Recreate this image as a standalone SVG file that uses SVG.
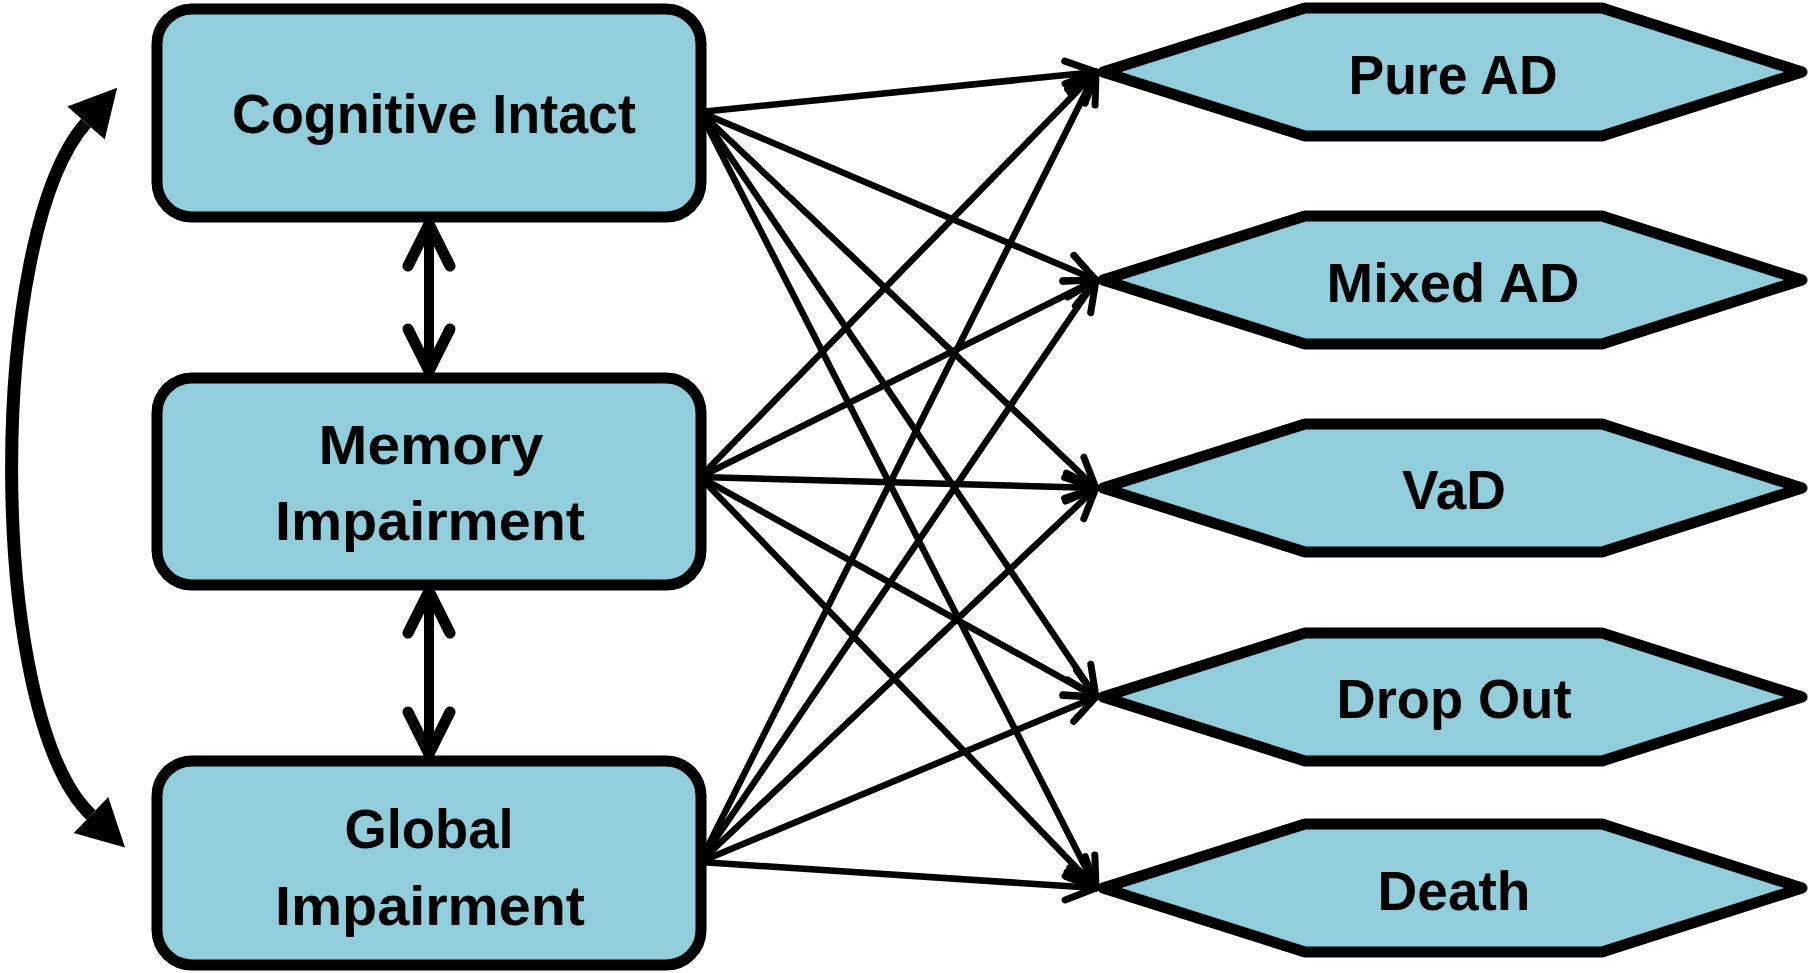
<svg xmlns="http://www.w3.org/2000/svg" width="1812" height="973" viewBox="0 0 1812 973">
<style>
.box{fill:#92CDDC;stroke:#000;stroke-width:11}
.hex{fill:#92CDDC;stroke:#000;stroke-width:11;stroke-linejoin:round}
.lbl{font-family:"Liberation Sans",Arial,sans-serif;font-weight:bold;font-size:55px;fill:#000;text-anchor:middle}
.ln{stroke:#000;stroke-width:6.5;fill:none;marker-end:url(#open)}
.vert{stroke:#000;stroke-width:10;fill:none;marker-start:url(#openBig);marker-end:url(#openBig)}
.curve{stroke:#000;stroke-width:13;fill:none;marker-start:url(#solid);marker-end:url(#solid)}
</style>
<defs>
<marker id="open" markerUnits="userSpaceOnUse" orient="auto" refX="0" refY="0" markerWidth="60" markerHeight="60" viewBox="-40 -30 50 60" overflow="visible">
<path d="M-30,-14 L0,0 L-30,14" fill="none" stroke="#000" stroke-width="7" stroke-linecap="round" stroke-linejoin="round"/>
</marker>
<marker id="openBig" markerUnits="userSpaceOnUse" orient="auto-start-reverse" refX="0" refY="0" markerWidth="70" markerHeight="70" viewBox="-55 -35 65 70" overflow="visible">
<path d="M-42,-21 L0,0 L-42,21" fill="none" stroke="#000" stroke-width="11" stroke-linecap="round" stroke-linejoin="miter"/>
</marker>
<marker id="solid" markerUnits="userSpaceOnUse" orient="auto-start-reverse" refX="0" refY="0" markerWidth="60" markerHeight="60" viewBox="-5 -30 60 60" overflow="visible">
<path d="M0,-25 L47,0 L0,25 z" fill="#000"/>
</marker>
</defs>

<g id="connectors">
<line class="ln" x1="700" y1="112" x2="1096" y2="72"/>
<line class="ln" x1="700" y1="112" x2="1096" y2="280"/>
<line class="ln" x1="700" y1="112" x2="1096" y2="488"/>
<line class="ln" x1="700" y1="112" x2="1096" y2="697"/>
<line class="ln" x1="700" y1="112" x2="1096" y2="888"/>
<line class="ln" x1="700" y1="477" x2="1096" y2="72"/>
<line class="ln" x1="700" y1="477" x2="1096" y2="280"/>
<line class="ln" x1="700" y1="477" x2="1096" y2="488"/>
<line class="ln" x1="700" y1="477" x2="1096" y2="697"/>
<line class="ln" x1="700" y1="477" x2="1096" y2="888"/>
<line class="ln" x1="700" y1="862" x2="1096" y2="72"/>
<line class="ln" x1="700" y1="862" x2="1096" y2="280"/>
<line class="ln" x1="700" y1="862" x2="1096" y2="488"/>
<line class="ln" x1="700" y1="862" x2="1096" y2="697"/>
<line class="ln" x1="700" y1="862" x2="1096" y2="888"/>
<line class="vert" x1="429" y1="224" x2="429" y2="371"/>
<line class="vert" x1="429" y1="591" x2="429" y2="754"/>
<path class="curve" d="M86,123 C-14,236 -14,715 91,815"/>
</g>

<g id="node-cognitive-intact">
<rect class="box" x="157" y="9" width="544" height="208" rx="35" ry="35"/>
<text class="lbl" x="434" y="133" textLength="404" lengthAdjust="spacingAndGlyphs">Cognitive Intact</text>
</g>
<g id="node-memory-impairment">
<rect class="box" x="157" y="378" width="544" height="207" rx="35" ry="35"/>
<text class="lbl" x="431" y="464" textLength="225" lengthAdjust="spacingAndGlyphs">Memory</text>
<text class="lbl" x="430" y="540" textLength="310" lengthAdjust="spacingAndGlyphs">Impairment</text>
</g>
<g id="node-global-impairment">
<rect class="box" x="157" y="761" width="544" height="204" rx="35" ry="35"/>
<text class="lbl" x="429" y="848" textLength="169" lengthAdjust="spacingAndGlyphs">Global</text>
<text class="lbl" x="430" y="925" textLength="310" lengthAdjust="spacingAndGlyphs">Impairment</text>
</g>

<g id="node-pure-ad">
<polygon class="hex" points="1103,72 1305,8 1602,8 1802,72 1602,136 1305,136"/>
<text class="lbl" x="1453" y="94" textLength="209" lengthAdjust="spacingAndGlyphs">Pure AD</text>
</g>
<g id="node-mixed-ad">
<polygon class="hex" points="1103,280 1305,216 1602,216 1802,280 1602,344 1305,344"/>
<text class="lbl" x="1453" y="302" textLength="253" lengthAdjust="spacingAndGlyphs">Mixed AD</text>
</g>
<g id="node-vad">
<polygon class="hex" points="1103,488 1305,424 1602,424 1802,488 1602,552 1305,552"/>
<text class="lbl" x="1454" y="509" textLength="104" lengthAdjust="spacingAndGlyphs">VaD</text>
</g>
<g id="node-drop-out">
<polygon class="hex" points="1103,697 1305,633 1602,633 1802,697 1602,761 1305,761"/>
<text class="lbl" x="1454" y="718" textLength="235" lengthAdjust="spacingAndGlyphs">Drop Out</text>
</g>
<g id="node-death">
<polygon class="hex" points="1103,888 1305,824 1602,824 1802,888 1602,952 1305,952"/>
<text class="lbl" x="1454" y="910" textLength="153" lengthAdjust="spacingAndGlyphs">Death</text>
</g>
</svg>
